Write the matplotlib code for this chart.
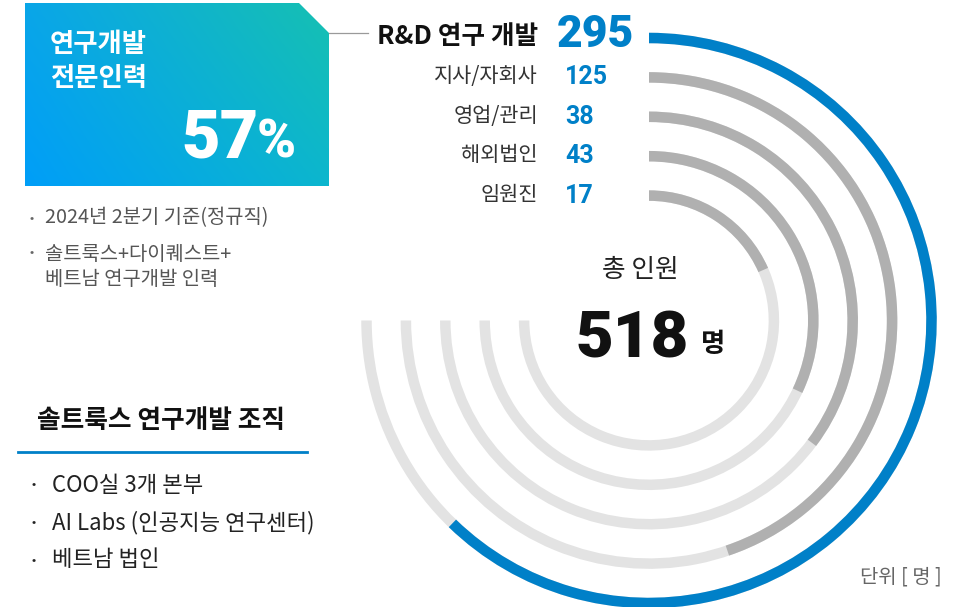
import matplotlib
matplotlib.use('Agg')
import matplotlib.pyplot as plt
import numpy as np
from matplotlib.patches import Polygon

plt.rcParams['font.family'] = ['Noto Sans CJK KR', 'DejaVu Sans']
NUM_FONT = ['Roboto', 'Noto Sans CJK KR', 'DejaVu Sans']

# --- data ---
categories = ['R&D 연구 개발', '지사/자회사', '영업/관리', '해외법인', '임원진']
headcount = [295, 125, 38, 43, 17]
arc_pct = [83.0, 59.7, 47.0, 42.7, 24.5]   # drawn share of the 270° track
total = 518
rd_share = 57
notes = ['2024년 2분기 기준(정규직)', '솔트룩스+다이퀘스트+\n베트남 연구개발 인력']
org_title = '솔트룩스 연구개발 조직'
org_items = ['COO실 3개 본부', 'AI Labs (인공지능 연구센터)', '베트남 법인']

BLUE = '#0080C8'
DARK = '#B0B0B0'
LIGHT = '#E3E3E3'

W, H = 966, 607
fig = plt.figure(figsize=(W / 100, H / 100), dpi=100)
fig.patch.set_facecolor('white')

# --- radial bars (polar axes, 1 data unit = 1 px) ---
cx, cy, half = 649, 320.5, 300
ax = fig.add_axes([(cx - half) / W, (H - cy - half) / H, 2 * half / W, 2 * half / H],
                  projection='polar')
ax.set_theta_zero_location('N')
ax.set_theta_direction(-1)
ax.set_ylim(0, half)
ax.axis('off')

track = np.deg2rad(270)
r_out, step, thick = 282.5, 39.4, 10.5
for i, (n, pct) in enumerate(zip(headcount, arc_pct)):
    r = r_out - i * step
    ax.bar(0, thick, width=track, bottom=r - thick / 2, align='edge',
           color=LIGHT, linewidth=0)
    ax.bar(0, thick, width=track * pct / 100, bottom=r - thick / 2, align='edge',
           color=BLUE if i == 0 else DARK, linewidth=0)

# --- overlay in pixel coords ---
ov = fig.add_axes([0, 0, 1, 1])
ov.set_xlim(0, W)
ov.set_ylim(H, 0)
ov.axis('off')
ov.patch.set_alpha(0)

# gradient box with chamfered corner (bilinear between corner colours)
bx0, by0, bx1, by1 = 25, 3, 329, 186
X, Y = np.meshgrid(np.linspace(0, 1, 200), np.linspace(0, 1, 120))
tl = np.array([10, 166, 232]) / 255
tr = np.array([22, 192, 178]) / 255
bl = np.array([0, 158, 248]) / 255
br = np.array([12, 182, 206]) / 255
top = tl * (1 - X[..., None]) + tr * X[..., None]
bot = bl * (1 - X[..., None]) + br * X[..., None]
img = top * (1 - Y[..., None]) + bot * Y[..., None]
im = ov.imshow(img, extent=(bx0, bx1, by1, by0), origin='upper', aspect='auto', zorder=1)
clip = Polygon([(bx0, by0), (299, by0), (bx1, 33), (bx1, by1), (bx0, by1)],
               closed=True, transform=ov.transData, facecolor='none', edgecolor='none')
ov.add_patch(clip)
im.set_clip_path(clip)
ov.set_xlim(0, W)
ov.set_ylim(H, 0)

ov.text(50, 44, '연구개발', color='white', fontsize=19, fontweight='bold', va='center')
ov.text(50, 78, '전문인력', color='white', fontsize=19, fontweight='bold', va='center')
ov.text(259, 157, f'{rd_share}', color='white', fontsize=48, fontweight='black',
        family=NUM_FONT, ha='right', va='baseline')
ov.text(257, 157, '%', color='white', fontsize=38, fontweight='black',
        family=NUM_FONT, ha='left', va='baseline')

# leader line
ov.plot([329, 368], [33, 33], color='#9A9A9A', lw=0.9)

# ring labels
label_y = [cy - (r_out - i * step) for i in range(len(categories))]
for i, (cat, n) in enumerate(zip(categories, headcount)):
    y = label_y[i]
    if i == 0:
        ov.text(538, y - 2, cat, color='#111111', fontsize=18.5, fontweight='bold',
                ha='right', va='center')
        ov.text(557, y - 3, f'{n}', color=BLUE, fontsize=32, fontweight='black',
                family=NUM_FONT, ha='left', va='center')
    else:
        ov.text(538, y - 1, cat, color='#333333', fontsize=15,
                ha='right', va='center')
        ov.text(565, y, f'{n}', color=BLUE, fontsize=18, fontweight='bold',
                family=NUM_FONT, ha='left', va='center')

# center total
ov.text(640, 270, '총 인원', color='#222222', fontsize=18.5, ha='center', va='center')
ov.text(689, 357, f'{total}', color='#111111', fontsize=47, fontweight='black',
        family=NUM_FONT, ha='right', va='baseline')
ov.text(701, 352, '명', color='#111111', fontsize=19, fontweight='bold',
        ha='left', va='baseline')

# notes
ov.text(30, 218, '•', color='#666666', fontsize=9, va='center')
ov.text(45, 218, notes[0], color='#555555', fontsize=14.3, va='center')
ov.text(30, 253, '•', color='#666666', fontsize=9, va='center')
ov.text(45, 267, notes[1], color='#555555', fontsize=14.3, va='center', linespacing=1.2)

# organisation block
ov.text(37, 421, org_title, color='#111111', fontsize=18.5, fontweight='bold', va='center')
ov.plot([18, 307], [452, 452], color=BLUE, lw=2)
for k, item in enumerate(org_items):
    y = 485 + k * 37.5
    ov.text(32, y, '•', color='#222222', fontsize=9, va='center')
    ov.text(52, y, item, color='#222222', fontsize=16, va='center')

ov.text(942, 577, '단위 [ 명 ]', color='#666666', fontsize=14.3, ha='right', va='center')

fig.savefig('out.png', dpi=100, facecolor='white')
